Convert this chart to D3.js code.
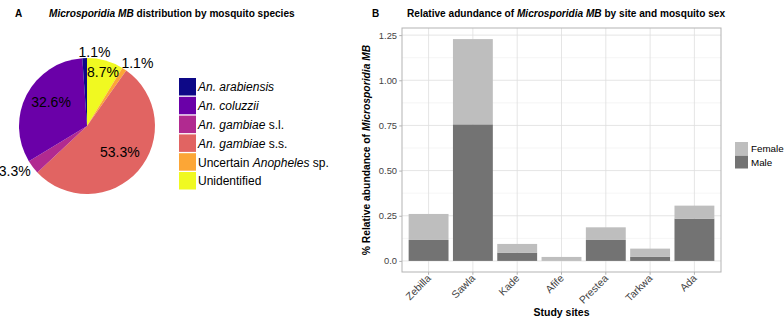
<!DOCTYPE html>
<html>
<head>
<meta charset="utf-8">
<script src="https://cdn.jsdelivr.net/npm/d3@7/dist/d3.min.js"></script>
<style>
  body { margin: 0; background: #fff; }
  svg { font-family: "Liberation Sans", Arial, Helvetica, sans-serif; }
</style>
</head>
<body>
<div id="chart"></div>
<script>
// ---- panel A data ----
var species = ["An. arabiensis", "An. coluzzii", "An. gambiae s.l.", "An. gambiae s.s.", "Uncertain Anopheles sp.", "Unidentified"];
// legend label pieces: [text, italic?]
var speciesLabel = [
    [["An. arabiensis", true]],
    [["An. coluzzii", true]],
    [["An. gambiae", true], [" s.l.", false]],
    [["An. gambiae", true], [" s.s.", false]],
    [["Uncertain ", false], ["Anopheles", true], [" sp.", false]],
    [["Unidentified", false]]
];
var speciesPct = [1.1, 32.6, 3.3, 53.3, 1.1, 8.7];
var speciesColors = ["#0d0887", "#6a00a8", "#b12a90", "#e16462", "#fca636", "#f0f921"];

// ---- panel B data ----
var sites = ["Zebilla", "Sawla", "Kade", "Afife", "Prestea", "Tarkwa", "Ada"];
var maleAbund = [0.116, 0.756, 0.046, 0.0, 0.116, 0.022, 0.234];
var femaleAbund = [0.144, 0.472, 0.048, 0.022, 0.070, 0.046, 0.072];
var sexes = ["Female", "Male"];
var sexColors = ["#bebebe", "#737373"];
var yTicks = [0, 0.25, 0.5, 0.75, 1.0, 1.25];
var yTickLabels = ["0.0", "0.25", "0.50", "0.75", "1.00", "1.25"];

var W = 784, H = 321;

var svg = d3.select("#chart").append("svg")
    .attr("width", W)
    .attr("height", H);

// ================= panel A : pie =================
var pieA = {
    cx: 87,
    cy: 126,
    r: 68
};

svg.append("text")
    .attr("x", 15).attr("y", 17)
    .attr("font-size", 10).attr("font-weight", "bold")
    .text("A");

var titleA = svg.append("text")
    .attr("x", 49).attr("y", 17)
    .attr("font-size", 10.1).attr("font-weight", "bold");
titleA.append("tspan").attr("font-style", "italic").text("Microsporidia MB");
titleA.append("tspan").text(" distribution by mosquito species");

var pieRows = species.map(function (s, i) {
    return { i: i, pct: speciesPct[i] };
}).reverse();

var pie = d3.pie().sort(null).value(function (d) { return d.pct; });
var arc = d3.arc().innerRadius(0).outerRadius(pieA.r);
var arcs = pie(pieRows);

var gPie = svg.append("g")
    .attr("transform", "translate(" + pieA.cx + "," + pieA.cy + ")");

gPie.selectAll("path")
    .data(arcs)
    .enter().append("path")
    .attr("d", arc)
    .attr("fill", function (d) { return speciesColors[d.data.i]; });

// label placement (radius factor + small nudge, like a repel step)
var labelPlace = [
    { f: 1.09, dx: 10, dy: 0 },
    { f: 0.63, dx: 2, dy: -4 },
    { f: 1.24, dx: -5, dy: -6 },
    { f: 0.62, dx: 1, dy: -2 },
    { f: 1.19, dx: 6, dy: 5 },
    { f: 0.82, dx: 1, dy: 0 }
];

gPie.selectAll("text.lab")
    .data(arcs)
    .enter().append("text")
    .attr("class", "lab")
    .attr("transform", function (d) {
        var p = labelPlace[d.data.i];
        var c = d3.arc().innerRadius(pieA.r * p.f).outerRadius(pieA.r * p.f).centroid(d);
        return "translate(" + (c[0] + p.dx) + "," + (c[1] + p.dy) + ")";
    })
    .attr("text-anchor", "middle")
    .attr("dy", "0.36em")
    .attr("font-size", 14)
    .attr("fill", "#000")
    .text(function (d) { return d.data.pct.toFixed(1) + "%"; });

// legend A
var legA = svg.append("g").attr("transform", "translate(179,78)");
var legRow = 18.8;
species.forEach(function (s, i) {
    var g = legA.append("g").attr("transform", "translate(0," + (i * legRow) + ")");
    g.append("rect")
        .attr("width", 17).attr("height", 17.5)
        .attr("fill", speciesColors[i]);
    var t = g.append("text")
        .attr("x", 19).attr("y", 9)
        .attr("dy", "0.36em")
        .attr("font-size", 12)
        .attr("fill", "#000");
    speciesLabel[i].forEach(function (part) {
        t.append("tspan")
            .attr("font-style", part[1] ? "italic" : "normal")
            .text(part[0]);
    });
});

// ================= panel B : stacked bars =================
var barB = {
    left: 402,
    right: 721,
    top: 28,
    bottom: 272
};

svg.append("text")
    .attr("x", 372).attr("y", 17)
    .attr("font-size", 10).attr("font-weight", "bold")
    .text("B");

var titleB = svg.append("text")
    .attr("x", 407).attr("y", 17)
    .attr("font-size", 10.1).attr("font-weight", "bold");
titleB.append("tspan").text("Relative adundance of ");
titleB.append("tspan").attr("font-style", "italic").text("Microsporidia MB");
titleB.append("tspan").text(" by site and mosquito sex");

var rows = sites.map(function (s, i) {
    return { site: s, Male: maleAbund[i], Female: femaleAbund[i] };
});
var yMax = d3.max(rows, function (d) { return d.Male + d.Female; });
var expand = yMax * 0.05;

var xScale = d3.scaleBand()
    .domain(sites)
    .range([barB.left, barB.right])
    .paddingInner(0.1)
    .paddingOuter(0.15);

var yScale = d3.scaleLinear()
    .domain([-expand, yMax + expand])
    .range([barB.bottom, barB.top]);

var gB = svg.append("g");

// minor grid
var minorTicks = [];
for (var k = 0; k < yTicks.length - 1; k++) minorTicks.push((yTicks[k] + yTicks[k + 1]) / 2);
gB.selectAll("line.minor")
    .data(minorTicks)
    .enter().append("line")
    .attr("x1", barB.left).attr("x2", barB.right)
    .attr("y1", function (d) { return yScale(d); })
    .attr("y2", function (d) { return yScale(d); })
    .attr("stroke", "#ebebeb").attr("stroke-width", 0.5);

// major grid
gB.selectAll("line.hmajor")
    .data(yTicks)
    .enter().append("line")
    .attr("x1", barB.left).attr("x2", barB.right)
    .attr("y1", function (d) { return yScale(d); })
    .attr("y2", function (d) { return yScale(d); })
    .attr("stroke", "#dedede").attr("stroke-width", 0.8);

gB.selectAll("line.vmajor")
    .data(sites)
    .enter().append("line")
    .attr("y1", barB.top).attr("y2", barB.bottom)
    .attr("x1", function (d) { return xScale(d) + xScale.bandwidth() / 2; })
    .attr("x2", function (d) { return xScale(d) + xScale.bandwidth() / 2; })
    .attr("stroke", "#dedede").attr("stroke-width", 0.8);

// bars
var stack = d3.stack().keys(["Male", "Female"]);
var series = stack(rows);

gB.selectAll("g.layer")
    .data(series)
    .enter().append("g")
    .attr("fill", function (d) { return sexColors[sexes.indexOf(d.key)]; })
    .selectAll("rect")
    .data(function (d) { return d; })
    .enter().append("rect")
    .attr("x", function (d) { return xScale(d.data.site); })
    .attr("width", xScale.bandwidth())
    .attr("y", function (d) { return yScale(d[1]); })
    .attr("height", function (d) { return Math.max(0, yScale(d[0]) - yScale(d[1])); });

// panel border
gB.append("rect")
    .attr("x", barB.left).attr("y", barB.top)
    .attr("width", barB.right - barB.left)
    .attr("height", barB.bottom - barB.top)
    .attr("fill", "none")
    .attr("stroke", "#b3b3b3").attr("stroke-width", 1);

// y axis
var yAxis = d3.axisLeft(yScale)
    .tickValues(yTicks)
    .tickSize(2.75)
    .tickPadding(2.2)
    .tickFormat(function (d, i) { return yTickLabels[i]; });

var gy = svg.append("g")
    .attr("transform", "translate(" + barB.left + ",0)")
    .call(yAxis);
gy.select(".domain").remove();
gy.selectAll(".tick line").attr("stroke", "#b3b3b3");
gy.selectAll(".tick text")
    .attr("font-size", 9.4)
    .attr("font-family", null)
    .attr("fill", "#444");

// x axis
var xAxis = d3.axisBottom(xScale).tickSize(2.75).tickPadding(2);
var gx = svg.append("g")
    .attr("transform", "translate(0," + barB.bottom + ")")
    .call(xAxis);
gx.select(".domain").remove();
gx.selectAll(".tick line").attr("stroke", "#b3b3b3");
gx.selectAll(".tick text")
    .attr("font-size", 10.4)
    .attr("font-family", null)
    .attr("fill", "#444")
    .attr("text-anchor", "end")
    .attr("dy", null)
    .attr("y", 0)
    .attr("transform", "translate(3,7) rotate(-45)");

// axis titles
svg.append("text")
    .attr("x", (barB.left + barB.right) / 2)
    .attr("y", 316)
    .attr("text-anchor", "middle")
    .attr("font-size", 10.5).attr("font-weight", "bold")
    .text("Study sites");

var yTitle = svg.append("text")
    .attr("transform", "translate(370," + ((barB.top + barB.bottom) / 2) + ") rotate(-90)")
    .attr("text-anchor", "middle")
    .attr("font-size", 10.3).attr("font-weight", "bold");
yTitle.append("tspan").text("% Relative abundance of ");
yTitle.append("tspan").attr("font-style", "italic").text("Microsporidia MB");

// legend B
var legB = svg.append("g").attr("transform", "translate(735,142)");
sexes.forEach(function (s, i) {
    var g = legB.append("g").attr("transform", "translate(0," + (i * 13.5) + ")");
    g.append("rect")
        .attr("width", 13).attr("height", 13)
        .attr("fill", sexColors[i]);
    g.append("text")
        .attr("x", 16).attr("y", 6.5)
        .attr("dy", "0.36em")
        .attr("font-size", 9.8)
        .attr("fill", "#000")
        .text(s);
});
</script>
</body>
</html>
